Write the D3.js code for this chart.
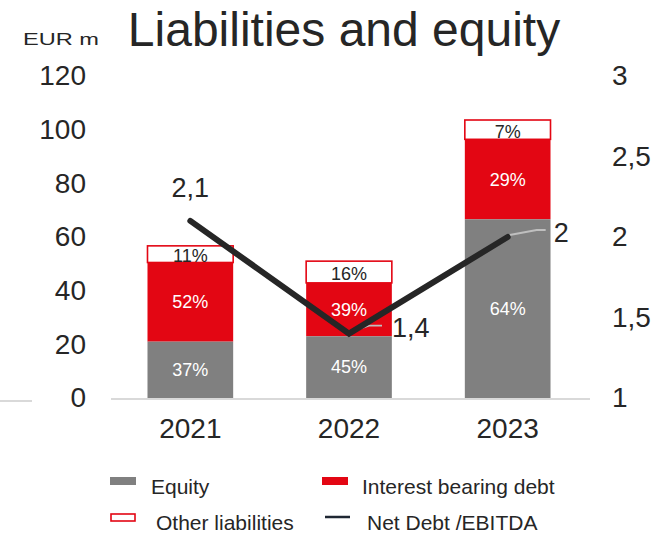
<!DOCTYPE html>
<html>
<head>
<meta charset="utf-8">
<script src="https://cdn.jsdelivr.net/npm/d3@7"></script>
<style>
  body { margin: 0; background: #fff; }
  svg text { font-family: "Liberation Sans", Arial, sans-serif; fill: #262626; }
</style>
</head>
<body>
<div id="chart"></div>
<script>
// data
let years = ["2021", "2022", "2023"]
let equity = [21, 23, 66.6]
let debt = [29.5, 19.9, 29.8]
let other = [6.2, 8.1, 7.2]
let netDebtEbitda = [2.1, 1.4, 2.0]
let leftTicks = [0, 20, 40, 60, 80, 100, 120]
let rightTicks = [1, 1.5, 2, 2.5, 3]

let width = 669,
    height = 534

let red = "#e30613",
    grey = "#808080",
    dark = "#262626"

let svg = d3.select("#chart").append("svg")
    .attr("width", width)
    .attr("height", height)

let x = d3.scaleBand()
    .domain(years)
    .range([111, 587])
    .paddingInner(0.46)
    .paddingOuter(0.23)

let y = d3.scaleLinear()
    .domain([0, 120])
    .range([398, 76])

let y2 = d3.scaleLinear()
    .domain([1, 3])
    .range([398, 76])

let comma = d => String(d).replace(".", ",")

// title + unit
svg.append("text")
    .attr("x", 344)
    .attr("y", 46)
    .attr("text-anchor", "middle")
    .attr("font-size", 48)
    .text("Liabilities and equity")

svg.append("text")
    .attr("x", 23)
    .attr("y", 45)
    .attr("font-size", 17)
    .attr("textLength", 76)
    .attr("lengthAdjust", "spacingAndGlyphs")
    .text("EUR m")

// axes (labels only)
let leftAxis = svg.append("g")
    .attr("transform", "translate(86,0)")
    .call(d3.axisLeft(y).tickValues(leftTicks).tickSize(0).tickPadding(0))
leftAxis.select(".domain").remove()
leftAxis.selectAll("text")
    .attr("font-size", 28)
    .attr("fill", dark)

let rightAxis = svg.append("g")
    .attr("transform", "translate(612,0)")
    .call(d3.axisRight(y2).tickValues(rightTicks).tickFormat(comma).tickSize(0).tickPadding(0))
rightAxis.select(".domain").remove()
rightAxis.selectAll("text")
    .attr("font-size", 28)
    .attr("fill", dark)

let bottomAxis = svg.append("g")
    .attr("transform", "translate(0,418)")
    .call(d3.axisBottom(x).tickSize(0).tickPadding(0))
bottomAxis.select(".domain").remove()
bottomAxis.selectAll("text")
    .attr("font-size", 28)
    .attr("fill", dark)

// baseline
svg.append("line")
    .attr("x1", x.range()[0]).attr("x2", x.range()[1] + 3)
    .attr("y1", y(0) + 1).attr("y2", y(0) + 1)
    .attr("stroke", "#d9d9d9")
    .attr("stroke-width", 2)
svg.append("line")
    .attr("x1", 0).attr("x2", 32)
    .attr("y1", y(0) + 3).attr("y2", y(0) + 3)
    .attr("stroke", "#d9d9d9")
    .attr("stroke-width", 2)

// stacked bars
let table = years.map((yr, i) => ({ year: yr, equity: equity[i], debt: debt[i], other: other[i] }))
let keys = ["equity", "debt", "other"]
let stack = d3.stack().keys(keys)(table)
let fills = { equity: grey, debt: red, other: "#fff" }
let labelColor = { equity: "#fff", debt: "#fff", other: dark }

// draw top segment first so the debt bar covers its overflowing label like the original
stack.slice().reverse().forEach(function(s) {
  let g = svg.append("g").attr("class", "series " + s.key)
  g.selectAll("rect")
    .data(s)
    .enter().append("rect")
      .attr("x", d => x(d.data.year))
      .attr("width", x.bandwidth())
      .attr("y", d => y(d[1]))
      .attr("height", d => y(d[0]) - y(d[1]))
      .attr("fill", fills[s.key])
      .attr("stroke", s.key === "other" ? red : "none")
      .attr("stroke-width", 1.6)
  g.selectAll("text")
    .data(s)
    .enter().append("text")
      .attr("x", d => x(d.data.year) + x.bandwidth() / 2)
      .attr("y", d => (y(d[0]) + y(d[1])) / 2 + (s.key === "other" ? 2 : 0))
      .attr("dy", "0.35em")
      .attr("text-anchor", "middle")
      .attr("font-size", 18)
      .style("fill", labelColor[s.key])
      .text(d => {
        let total = d.data.equity + d.data.debt + d.data.other
        return Math.round((d[1] - d[0]) / total * 100) + "%"
      })
})

// Net debt / EBITDA line
let pts = years.map((yr, i) => [x(yr) + x.bandwidth() / 2, y2(netDebtEbitda[i])])

// leader lines for the two labels on the right of their points
let leaders = [
  [[pts[1][0] + 2, pts[1][1] - 2], [pts[1][0] + 20, pts[1][1] - 8], [pts[1][0] + 33, pts[1][1] - 8]],
  [[pts[2][0] + 2, pts[2][1] - 2], [pts[2][0] + 29, pts[2][1] - 7], [pts[2][0] + 38, pts[2][1] - 7]]
]
svg.selectAll(".leader")
    .data(leaders)
    .enter().append("path")
      .attr("class", "leader")
      .attr("d", d3.line())
      .attr("fill", "none")
      .attr("stroke", "#bfbfbf")
      .attr("stroke-width", 1.8)

svg.append("path")
    .datum(pts)
    .attr("d", d3.line())
    .attr("fill", "none")
    .attr("stroke", dark)
    .attr("stroke-width", 6)
    .attr("stroke-linecap", "round")
    .attr("stroke-linejoin", "miter")

let lineLabels = [
  { dx: 0, dy: -33, anchor: "middle" },
  { dx: 43, dy: -6, anchor: "start" },
  { dx: 46, dy: -4, anchor: "start" }
]
svg.selectAll(".nd-label")
    .data(netDebtEbitda)
    .enter().append("text")
      .attr("class", "nd-label")
      .attr("x", (d, i) => pts[i][0] + lineLabels[i].dx)
      .attr("y", (d, i) => pts[i][1] + lineLabels[i].dy)
      .attr("dy", "0.35em")
      .attr("text-anchor", (d, i) => lineLabels[i].anchor)
      .attr("font-size", 27)
      .text(d => comma(d))

// legend
let legend = svg.append("g").attr("class", "legend")
let legendItems = [
  { name: "Equity", type: "rect", fill: grey, stroke: "none", sx: 110, sy: 477, tx: 151, ty: 494 },
  { name: "Interest bearing debt", type: "rect", fill: red, stroke: "none", sx: 322, sy: 477, tx: 362, ty: 494 },
  { name: "Other liabilities", type: "box", fill: "#fff", stroke: red, sx: 111, sy: 514, tx: 156, ty: 530 },
  { name: "Net Debt /EBITDA", type: "line", fill: "none", stroke: "#1f2733", sx: 325, sy: 517, tx: 367, ty: 530 }
]
legendItems.forEach(function(d) {
  if (d.type === "line") {
    legend.append("line")
      .attr("x1", d.sx).attr("x2", d.sx + 25)
      .attr("y1", d.sy).attr("y2", d.sy)
      .attr("stroke", d.stroke)
      .attr("stroke-width", 2.5)
  } else {
    legend.append("rect")
      .attr("x", d.sx).attr("y", d.sy)
      .attr("width", d.type === "box" ? 24 : 26)
      .attr("height", d.type === "box" ? 7 : 8)
      .attr("fill", d.fill)
      .attr("stroke", d.stroke)
      .attr("stroke-width", 1.6)
  }
  legend.append("text")
    .attr("x", d.tx)
    .attr("y", d.ty)
    .attr("font-size", 21)
    .text(d.name)
})
</script>
</body>
</html>
